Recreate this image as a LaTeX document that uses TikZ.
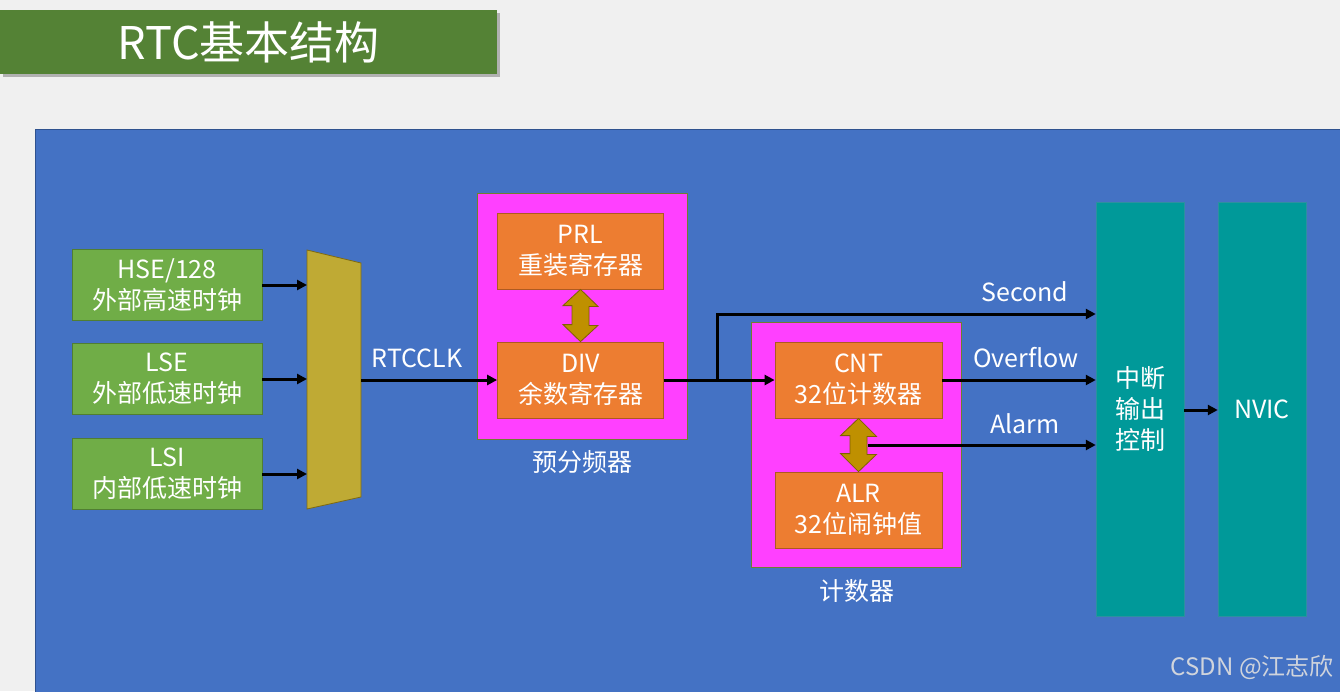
\documentclass[tikz,border=0pt]{standalone}
\usepackage{fontspec}
\setmainfont{Noto Sans CJK SC}
\usetikzlibrary{arrows.meta,calc,shadows}
\definecolor{bgc}{HTML}{F0F0F0}
\definecolor{panelc}{HTML}{4472C4}
\definecolor{paneld}{HTML}{2F528F}
\definecolor{titlec}{HTML}{548235}
\definecolor{greenc}{HTML}{70AD47}
\definecolor{greend}{HTML}{507E32}
\definecolor{muxc}{HTML}{BFAA34}
\definecolor{muxd}{HTML}{7F6A10}
\definecolor{pinkc}{HTML}{FF40FF}
\definecolor{pinkd}{HTML}{6F7F2F}
\definecolor{orangec}{HTML}{ED7D31}
\definecolor{oranged}{HTML}{AE5A21}
\definecolor{goldc}{HTML}{BF9000}
\definecolor{goldd}{HTML}{7F6000}
\definecolor{tealc}{HTML}{009999}
\definecolor{teald}{HTML}{2E8FA0}
\definecolor{wmc}{HTML}{D0D4DC}
\begin{document}
\begin{tikzpicture}[x=1pt,y=-1pt,
  txt/.style={text=white,font=\fontsize{25}{31}\selectfont,align=center,inner sep=0pt},
  greenbox/.style={txt,fill=greenc,draw=greend,line width=0.8pt,minimum width=190pt,minimum height=71pt},
  orangebox/.style={txt,fill=orangec,draw=oranged,line width=0.8pt,minimum width=166pt,minimum height=76pt},
  pinkbox/.style={fill=pinkc,draw=pinkd,line width=0.8pt,inner sep=0pt},
  tealbox/.style={txt,fill=tealc,draw=teald,line width=0.5pt,minimum width=88pt,minimum height=414pt},
  arr/.style={line width=3pt,-{Triangle[length=10pt,width=10pt]}},
  dbl/.style={fill=goldc,draw=goldd,line width=0.8pt,line join=miter}
]
\useasboundingbox (0,0) rectangle (1340,691);
\fill[bgc] (0,0) rectangle (1340,691);
% title
\node[fill=titlec,minimum width=497pt,minimum height=64pt,inner sep=0pt,
  text=white,font=\fontsize{45}{50}\selectfont,
  drop shadow={shadow xshift=3pt,shadow yshift=-3pt,opacity=0.45,fill=black!60}] (title) at (248.5,42) {RTC基本结构};
% panel
\draw[fill=panelc,draw=paneld,line width=1pt] (35.5,129.5) rectangle (1341,692);
% clock sources
\node[greenbox] (hse) at (167,285) {HSE/128\\外部高速时钟};
\node[greenbox] (lse) at (167,379) {LSE\\外部低速时钟};
\node[greenbox] (lsi) at (167,474) {LSI\\内部低速时钟};
% mux
\draw[fill=muxc,draw=muxd,line width=0.8pt] (307,250) -- (361,263) -- (361,497) -- (307,509) -- cycle;
\coordinate (muxL) at (307,380);
\coordinate (muxR) at (361,380);
\draw[arr] (hse.east) -- (hse.east -| muxL);
\draw[arr] (lse.east) -- (lse.east -| muxL);
\draw[arr] (lsi.east) -- (lsi.east -| muxL);
% prescaler
\node[pinkbox,minimum width=210pt,minimum height=246pt] (pre) at (582,316) {};
\node[orangebox] (prl) at (580.5,251) {PRL\\重装寄存器};
\node[orangebox] (div) at (580.5,380) {DIV\\余数寄存器};
\node[txt] (prelab) at (582,462) {预分频器};
\draw[dbl] (prl.south) -- ++(17.5,17) -- ++(-9,0) -- ++(0,19) -- ++(9,0) -- (div.north)
  -- ++(-17.5,-17) -- ++(9,0) -- ++(0,-19) -- ++(-9,0) -- cycle;
% counter
\node[pinkbox,minimum width=210pt,minimum height=245pt] (ctr) at (856,444.5) {};
\node[orangebox,minimum width=167pt] (cnt) at (858.5,380) {CNT\\32位计数器};
\node[orangebox,minimum width=167pt] (alr) at (858.5,510) {ALR\\32位闹钟值};
\node[txt] (ctrlab) at (857,591) {计数器};
\draw[dbl] (cnt.south) -- ++(18,18) -- ++(-9.5,0) -- ++(0,18) -- ++(9.5,0) -- (alr.north)
  -- ++(-18,-18) -- ++(9.5,0) -- ++(0,-18) -- ++(-9.5,0) -- cycle;
% interrupt & NVIC
\node[tealbox] (int) at (1140,409) {中断\\输出\\控制};
\node[tealbox] (nvic) at (1262,409) {NVIC};
% connectors
\draw[arr] (muxR) -- (div.west);
\node[txt] (rtcclk) at (417,358) {RTCCLK};
\draw[arr] (div.east) -- (cnt.west);
\coordinate (br) at (717,380);
\coordinate (secy) at (0,314);
\draw[arr] (br) |- (int.west |- secy);
\node[txt] (seclab) at (1025,292) {Second};
\draw[arr] (cnt.east) -- (int.west |- cnt.east);
\node[txt] (ovflab) at (1026,358) {Overflow};
\coordinate (alm) at (868,445);
\draw[arr] (alm) -- (int.west |- alm);
\node[txt] (almlab) at (1025,424) {Alarm};
\draw[arr] (int.east |- 0,410) -- (nvic.west |- 0,410);
% watermark
\node[anchor=east,inner sep=0pt,text=wmc,font=\fontsize{24}{28}\selectfont] (wm) at (1334,667) {CSDN @江志欣};
\end{tikzpicture}
\end{document}
